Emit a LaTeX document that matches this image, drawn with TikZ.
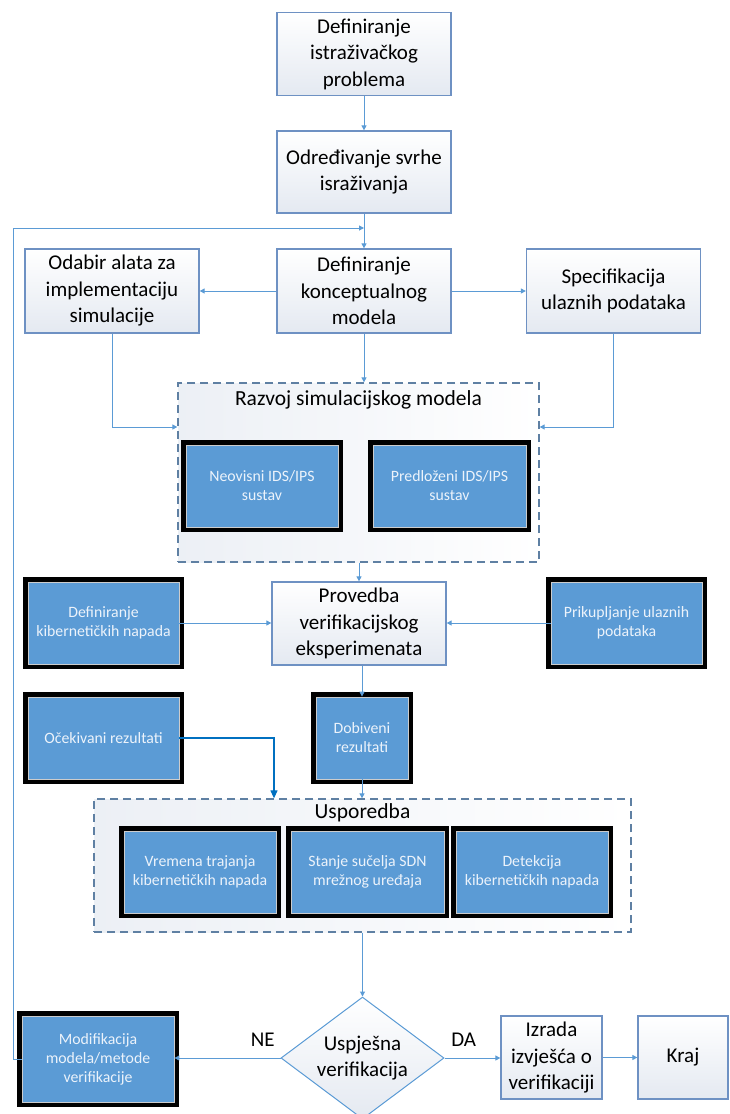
\documentclass[tikz,border=0pt]{standalone}
\usepackage{fontspec}
\setmainfont{Carlito}
\usetikzlibrary{arrows.meta, shapes.geometric}

\definecolor{lineblue}{RGB}{91,155,213}
\definecolor{darkblue}{RGB}{0,112,192}
\definecolor{boxblue}{RGB}{91,155,213}
\definecolor{edgeblue}{RGB}{110,145,195}
\definecolor{dashblue}{RGB}{95,128,163}
\definecolor{boxshade}{RGB}{228,233,241}
\definecolor{paletext}{RGB}{236,243,251}

\begin{document}
\begin{tikzpicture}[x=1pt, y=-1pt,
    whitebox/.style={rectangle, draw=edgeblue, line width=1.3pt,
                     top color=white, bottom color=boxshade,
                     minimum width=174pt, minimum height=83pt,
                     align=center, inner sep=0pt, font=\fontsize{21}{26.5}\selectfont},
    bluebox/.style={rectangle, fill=boxblue, draw=black!20, line width=0.8pt,
                    preaction={draw=black, line width=10pt},
                    minimum width=152pt, minimum height=82pt,
                    align=center, inner sep=0pt, text=paletext,
                    font=\fontsize{15.8}{19}\selectfont},
    groupbox/.style={rectangle, draw=dashblue, line width=1.3pt,
                     dash pattern=on 8pt off 5pt,
                     left color=boxshade!70, right color=white},
    grouptitle/.style={font=\fontsize{21.5}{25}\selectfont},
    decision/.style={diamond, draw=lineblue, line width=1pt,
                     top color=white, bottom color=boxshade,
                     minimum width=163pt, minimum height=122pt, aspect=1.34,
                     align=center, inner sep=0pt, font=\fontsize{21}{26.5}\selectfont},
    answer/.style={font=\fontsize{21}{24}\selectfont},
    arrow/.style={-{Triangle[width=5pt,length=5pt]}, draw=lineblue, line width=1pt},
    darkarrow/.style={-{Triangle[width=7pt,length=8pt]}, draw=darkblue, line width=1.2pt}
  ]
    \useasboundingbox (0,0) rectangle (730,1114);

    % Problem and purpose
    \node[whitebox] (problem) at (364,54) {Definiranje\\istraživačkog\\problema};
    \node[whitebox, minimum height=82pt] (svrha) at (364,172) {Određivanje svrhe\\israživanja};

    % Model definition row
    \node[whitebox, minimum height=84pt] (alat) at (112,291) {Odabir alata za\\implementaciju\\simulacije};
    \node[whitebox, minimum height=84pt] (model) at (364,291) {Definiranje\\konceptualnog\\modela};
    \node[whitebox, minimum height=84pt] (ulaz) at (613.5,291) {Specifikacija\\ulaznih podataka};

    % Simulation model development
    \node[groupbox, minimum width=361pt, minimum height=179pt] (razvoj) at (358.5,472.5) {};
    \node[grouptitle] (razvojtitle) at (358.5,400) {Razvoj simulacijskog modela};
    \node[bluebox] (neovisni) at (262,486) {Neovisni IDS/IPS\\sustav};
    \node[bluebox, minimum width=153pt] (predlozeni) at (449.5,486) {Predloženi IDS/IPS\\sustav};

    % Verification experiments
    \node[whitebox] (provedba) at (359,623.5) {Provedba\\verifikacijskog\\eksperimenata};
    \node[bluebox, minimum width=151pt] (napadi) at (103.5,623) {Definiranje\\kibernetičkih napada};
    \node[bluebox, minimum width=151pt] (prikup) at (626.5,623) {Prikupljanje ulaznih\\podataka};
    \node[bluebox, minimum width=151pt] (ocekivani) at (103.5,738) {Očekivani rezultati};
    \node[bluebox, minimum width=92pt] (dobiveni) at (362,738) {Dobiveni\\rezultati};

    % Comparison
    \node[groupbox, minimum width=537pt, minimum height=133pt] (usporedba) at (362.5,865.5) {};
    \node[grouptitle] (usporedbatitle) at (362.5,813) {Usporedba};
    \node[bluebox] (vremena) at (200,872) {Vremena trajanja\\kibernetičkih napada};
    \node[bluebox, minimum width=153pt] (stanje) at (367.5,872) {Stanje sučelja SDN\\mrežnog uređaja};
    \node[bluebox] (detekcija) at (532,872) {Detekcija\\kibernetičkih napada};

    % Decision row
    \node[decision] (uspjesna) at (362.5,1058) {Uspješna\\verifikacija};
    \node[bluebox, minimum height=86pt] (modif) at (98,1059) {Modifikacija\\modela/metode\\verifikacije};
    \node[whitebox, minimum width=101pt] (izrada) at (551.5,1057.5) {Izrada\\izvješća o\\verifikaciji};
    \node[whitebox, minimum width=90pt] (kraj) at (683,1057.5) {Kraj};

    \coordinate (loop) at (13,228);

    % Arrows
    \draw[arrow] (problem) -- (svrha);
    \draw[arrow] (svrha) -- (model);
    \draw[arrow] (model) -- (alat);
    \draw[arrow] (model) -- (ulaz);
    \draw[arrow] (model.south) -- (model.south |- razvoj.north);
    \draw[arrow] (alat.south) |- ([yshift=45.5pt]razvoj.west);
    \draw[arrow] (ulaz.south) |- ([yshift=45.5pt]razvoj.east);

    \draw[arrow] (provedba.north |- razvoj.south) -- (provedba.north);
    \draw[arrow] (napadi.east) -- (napadi.east -| provedba.west);
    \draw[arrow] (prikup.west) -- (prikup.west -| provedba.east);
    \draw[arrow] (dobiveni.north |- provedba.south) -- (dobiveni.north);
    \draw[arrow] (dobiveni.south) -- (dobiveni.south |- usporedba.north);
    \draw[darkarrow] (ocekivani.east) -| ([xshift=-88.5pt]usporedba.north);

    \draw[arrow] (usporedba) -- (uspjesna);
    \draw[arrow] (uspjesna.west) -- node[answer, pos=0, above left, yshift=8pt, xshift=-2pt] {NE} (uspjesna.west -| modif.east);
    \draw[arrow] (uspjesna.east) -- node[answer, pos=0, above right, yshift=8pt, xshift=3pt] {DA} (uspjesna.east -| izrada.west);
    \draw[arrow] (izrada) -- (kraj);
    \draw[arrow] (modif.west) -| (loop) -- (svrha.south |- loop);

  \end{tikzpicture}
\end{document}
